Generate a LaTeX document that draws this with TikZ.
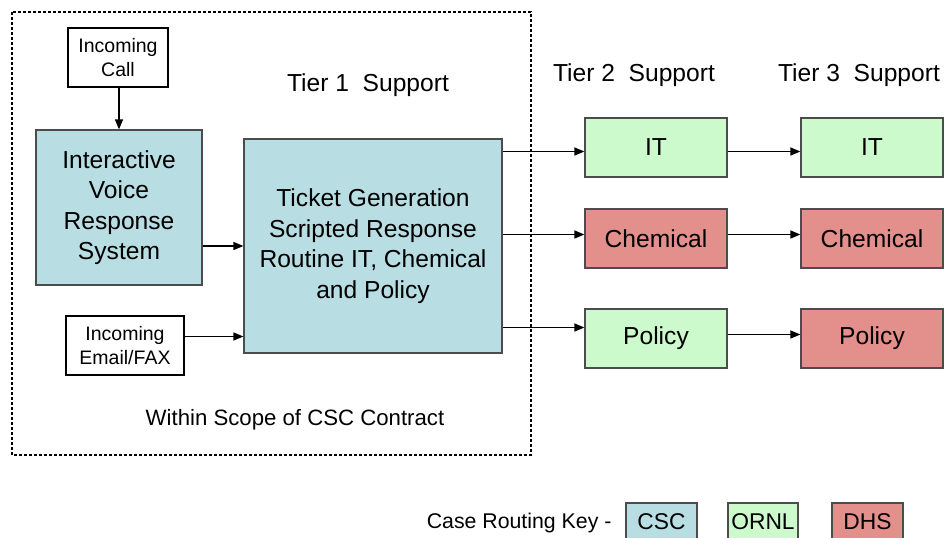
\documentclass[tikz,border=0pt]{standalone}
\usepackage{fontspec}
\setmainfont{Liberation Sans}
\usepackage{tikz}
\usetikzlibrary{arrows.meta}
\definecolor{csc}{rgb}{0.72, 0.87, 0.89}
\definecolor{ornl}{rgb}{0.80, 0.98, 0.80}
\definecolor{dhs}{rgb}{0.89, 0.56, 0.55}
\definecolor{edge}{rgb}{0.3, 0.3, 0.3}
\newcommand{\bigtxt}{\fontsize{24.6}{30.5}\selectfont}
\newcommand{\smalltxt}{\fontsize{19.5}{24}\selectfont}

\begin{document}
\begin{tikzpicture}[x=1pt,y=-1pt,
    inbox/.style={draw=black,line width=1.2pt,fill=white,align=center,
                  inner sep=0pt,font=\smalltxt},
    tbox/.style={draw=edge,line width=1.2pt,align=center,inner sep=0pt,
                 font=\bigtxt},
    keybox/.style={draw=edge,line width=1.2pt,inner sep=0pt,
                   minimum width=71,minimum height=38,font=\fontsize{22.8}{26}\selectfont},
    link/.style={line width=1.3pt,-{Triangle[length=10pt,width=8pt]}}]%
  \useasboundingbox (0,0) rectangle (946,538);
  % scope of contract
  \draw [densely dashed,line width=1.2pt] (12,12) rectangle (531,455);
  \node (scope) at (295,420) {\fontsize{22.2}{26}\selectfont Within Scope of CSC Contract};
  % tier headings
  \node (tier1) at (368,85) {\bigtxt Tier 1\ \ Support};
  \node (tier2) at (634,75) {\bigtxt Tier 2\ \ Support};
  \node (tier3) at (859,75) {\bigtxt Tier 3\ \ Support};
  % tier 1
  \node [inbox,minimum width=100,minimum height=59] (call) at (118,57.5) {Incoming\\Call};
  \node [inbox,minimum width=118,minimum height=59] (email) at (125,345.5) {Incoming\\Email/FAX};
  \node [tbox,fill=csc,minimum width=166,minimum height=155] (ivr) at (119,207.5)
        {Interactive\\Voice\\Response\\System};
  \node [tbox,fill=csc,minimum width=258,minimum height=214] (ticket) at (373,246)
        {Ticket Generation\\Scripted Response\\Routine IT, Chemical\\and Policy};
  % tier 2
  \node [tbox,fill=ornl,minimum width=142,minimum height=59] (it2)   at (656,147.5) {IT};
  \node [tbox,fill=dhs, minimum width=142,minimum height=59] (chem2) at (656,238.5) {Chemical};
  \node [tbox,fill=ornl,minimum width=142,minimum height=59] (pol2)  at (656,338.5) {Policy};
  % tier 3
  \node [tbox,fill=ornl,minimum width=142,minimum height=59] (it3)   at (872,147.5) {IT};
  \node [tbox,fill=dhs, minimum width=142,minimum height=59] (chem3) at (872,238.5) {Chemical};
  \node [tbox,fill=dhs, minimum width=142,minimum height=59] (pol3)  at (872,338.5) {Policy};
  % connectors
  \draw [link] (call.south -| ivr.north) -- (ivr.north);
  \draw [link] (ivr.east |- ticket.west) -- (ticket.west);
  \draw [link] ([yshift=9]email.east) -- ([yshift=9]email.east -| ticket.west);
  \draw [link] ([yshift=-4]ticket.east |- it2) -- ([yshift=-4]it2.west);
  \draw [link] ([yshift=4]ticket.east |- chem2) -- ([yshift=4]chem2.west);
  \draw [link] ([yshift=11]ticket.east |- pol2) -- ([yshift=11]pol2.west);
  \draw [link] ([yshift=-4]it2.east) -- ([yshift=-4]it3.west);
  \draw [link] ([yshift=4]chem2.east) -- ([yshift=4]chem3.west);
  \draw [link] ([yshift=4]pol2.east) -- ([yshift=4]pol3.west);
  % key
  \node [anchor=east] (key) at (615,523) {\fontsize{21.3}{26}\selectfont Case Routing Key -};
  \node [keybox,fill=csc]  (kcsc)  at (661.5,522) {CSC};
  \node [keybox,fill=ornl,minimum width=70] (kornl) at (763,522) {ORNL};
  \node [keybox,fill=dhs]  (kdhs)  at (867.5,522) {DHS};
\end{tikzpicture}
\end{document}
